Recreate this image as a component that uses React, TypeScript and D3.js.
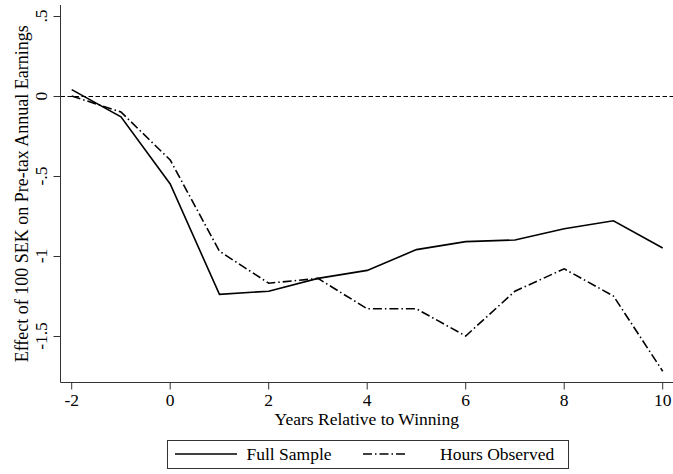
import React from "react";
import * as d3 from "d3";

// Event-study estimates by year relative to the lottery win
const years = [-2, -1, 0, 1, 2, 3, 4, 5, 6, 7, 8, 9, 10];
const fullSample = [0.04, -0.13, -0.55, -1.24, -1.22, -1.14, -1.09, -0.96, -0.91, -0.9, -0.83, -0.78, -0.95];
const hoursObserved = [0.0, -0.1, -0.4, -0.97, -1.17, -1.14, -1.33, -1.33, -1.5, -1.22, -1.08, -1.25, -1.72];

const xTicks = [-2, 0, 2, 4, 6, 8, 10];
const yTicks = [0.5, 0, -0.5, -1, -1.5];
const yTickLabels = [".5", "0", "-.5", "-1", "-1.5"];

const seriesNames = ["Full Sample", "Hours Observed"];

const W = 673;
const H = 474;
const FONT = "'Liberation Serif', 'Times New Roman', serif";
const FS = 17.5;
const DASHDOT = "9,3,1.5,3";

export default function App() {
  const x = d3.scaleLinear().domain([-2, 10]).range([71.7, 662.7]);
  const y = d3.scaleLinear().domain([0.5, -1.5]).range([16, 336]);

  const axisLeft = 60.5;
  const axisBottom = 382.5;

  const line = d3
    .line<[number, number]>()
    .x((d) => x(d[0]))
    .y((d) => y(d[1]));

  const fullPts = years.map((yr, i) => [yr, fullSample[i]] as [number, number]);
  const hoursPts = years.map((yr, i) => [yr, hoursObserved[i]] as [number, number]);

  const legend = { x0: 167, x1: 568, y0: 440, y1: 468 };
  const legendLineY = 454;

  return (
    <svg
      width={W}
      height={H}
      style={{ position: "absolute", left: 0, top: 0, background: "#fff" }}
      fontFamily={FONT}
    >
      <rect x={0} y={0} width={W} height={H} fill="#fff" />

      {/* zero reference line */}
      <line
        x1={axisLeft}
        x2={W}
        y1={y(0) + 0.5}
        y2={y(0) + 0.5}
        stroke="#000"
        strokeWidth={1}
        strokeDasharray="4.5,2.5"
      />

      {/* series */}
      <path d={line(fullPts) || ""} fill="none" stroke="#000" strokeWidth={1.6} strokeLinejoin="miter" />
      <path
        d={line(hoursPts) || ""}
        fill="none"
        stroke="#000"
        strokeWidth={1.6}
        strokeDasharray={DASHDOT}
      />

      {/* y axis */}
      <line x1={axisLeft} x2={axisLeft} y1={5} y2={axisBottom} stroke="#333" strokeWidth={1} />
      {yTicks.map((t, i) => (
        <g key={"yt" + i}>
          <line x1={axisLeft - 7} x2={axisLeft} y1={y(t) + 0.5} y2={y(t) + 0.5} stroke="#333" strokeWidth={1} />
          <text
            transform={`translate(47,${y(t)}) rotate(-90)`}
            textAnchor="middle"
            fontSize={FS}
            fill="#000"
          >
            {yTickLabels[i]}
          </text>
        </g>
      ))}
      <text
        transform={`translate(28,${(5 + axisBottom) / 2}) rotate(-90)`}
        textAnchor="middle"
        fontSize={18}
        fill="#000"
      >
        Effect of 100 SEK on Pre-tax Annual Earnings
      </text>

      {/* x axis */}
      <line x1={axisLeft} x2={W} y1={axisBottom} y2={axisBottom} stroke="#333" strokeWidth={1} />
      {xTicks.map((t) => (
        <g key={"xt" + t}>
          <line x1={x(t)} x2={x(t)} y1={axisBottom} y2={axisBottom + 7} stroke="#333" strokeWidth={1} />
          <text x={x(t)} y={406} textAnchor="middle" fontSize={FS} fill="#000">
            {t}
          </text>
        </g>
      ))}
      <text x={(axisLeft + W) / 2} y={425} textAnchor="middle" fontSize={FS} fill="#000">
        Years Relative to Winning
      </text>

      {/* legend */}
      <rect
        x={legend.x0 + 0.5}
        y={legend.y0 + 0.5}
        width={legend.x1 - legend.x0}
        height={legend.y1 - legend.y0}
        fill="#fff"
        stroke="#333"
        strokeWidth={1}
      />
      <line x1={175} x2={237} y1={legendLineY} y2={legendLineY} stroke="#000" strokeWidth={1.6} />
      <text x={246.5} y={460} fontSize={FS} fill="#000">
        {seriesNames[0]}
      </text>
      <line
        x1={363}
        x2={405}
        y1={legendLineY}
        y2={legendLineY}
        stroke="#000"
        strokeWidth={1.6}
        strokeDasharray={DASHDOT}
      />
      <text x={440} y={460} fontSize={FS} fill="#000">
        {seriesNames[1]}
      </text>
    </svg>
  );
}
